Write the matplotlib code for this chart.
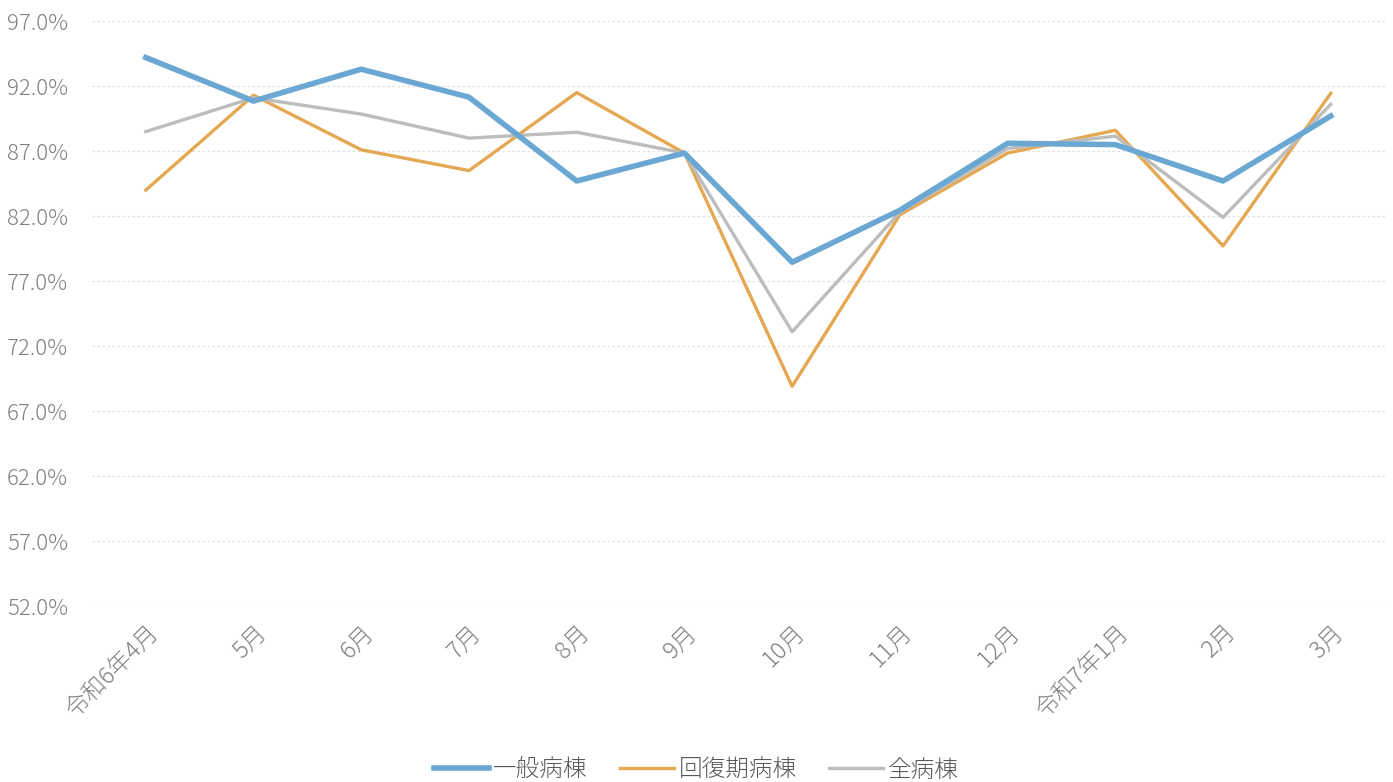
import matplotlib.pyplot as plt
from matplotlib.ticker import FuncFormatter

plt.rcParams['font.family'] = ['Noto Sans CJK JP', 'DejaVu Sans']

months = ['令和6年4月', '5月', '6月', '7月', '8月', '9月', '10月', '11月',
          '12月', '令和7年1月', '2月', '3月']
general = [94.2, 90.85, 93.3, 91.15, 84.7, 86.85, 78.45, 82.45, 87.6, 87.5, 84.7, 89.7]
recovery = [84.0, 91.3, 87.1, 85.5, 91.5, 86.85, 68.9, 82.1, 86.85, 88.6, 79.7, 91.45]
all_wards = [88.5, 91.1, 89.85, 88.0, 88.45, 86.85, 73.1, 82.3, 87.2, 88.15, 81.9, 90.6]

fig = plt.figure(figsize=(13.93, 7.82), dpi=100)
ax = fig.add_axes([0.066, 0.225, 0.928, 0.748])

x = range(len(months))
ax.plot(x, general, color='#6BA7D3', lw=4.0, label='一般病棟', zorder=3)
ax.plot(x, recovery, color='#E4A853', lw=2.4, label='回復期病棟', zorder=2)
ax.plot(x, all_wards, color='#BDBDBD', lw=2.4, label='全病棟', zorder=2)

ax.set_xlim(-0.5, len(months) - 0.5)
ax.set_ylim(52, 97)
ax.set_yticks([52, 57, 62, 67, 72, 77, 82, 87, 92, 97])
ax.yaxis.set_major_formatter(FuncFormatter(lambda v, p: f'{v:.1f}%'))
ax.set_xticks(list(x))
ax.set_xticklabels(months, rotation=45, ha='right', rotation_mode='anchor')
ax.tick_params(axis='both', length=0, colors='#808080')
ax.tick_params(axis='y', pad=17, labelsize=16)
ax.tick_params(axis='x', pad=10, labelsize=17)
for lab in ax.get_xticklabels() + ax.get_yticklabels():
    lab.set_fontweight('light')
ax.grid(axis='y', color='#E0E0E0', ls=(0, (2, 2)), lw=0.9)
for s in ax.spines.values():
    s.set_visible(False)

leg = fig.legend(loc='lower center', ncol=3, frameon=False,
                 prop={'size': 17, 'weight': 'light'},
                 bbox_to_anchor=(0.5, -0.028), handlelength=2.3, columnspacing=1.35,
                 handletextpad=0.2)
for t in leg.get_texts():
    t.set_color('#595959')

fig.savefig('out.png', dpi=100, facecolor='white')
